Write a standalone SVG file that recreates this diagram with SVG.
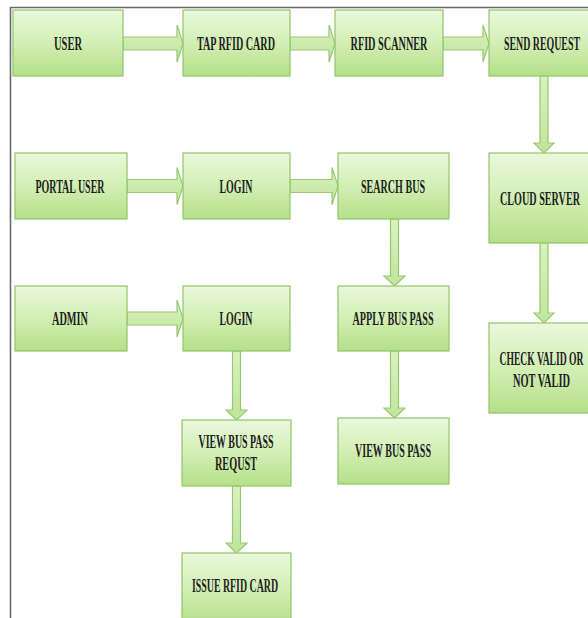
<svg xmlns="http://www.w3.org/2000/svg" width="588" height="618" viewBox="0 0 588 618">
  <defs>
    <linearGradient id="boxFill" x1="0" y1="0" x2="0" y2="1">
      <stop offset="0" stop-color="#eaf8dc"/>
      <stop offset="0.5" stop-color="#d2efb4"/>
      <stop offset="1" stop-color="#b4e088"/>
    </linearGradient>
    <linearGradient id="arrowFill" x1="0" y1="0" x2="0" y2="1">
      <stop offset="0" stop-color="#d9f2c0"/>
      <stop offset="1" stop-color="#bfe59c"/>
    </linearGradient>
  </defs>
  <style>
    .box { fill: url(#boxFill); stroke: #92c46a; stroke-width: 1.2; }
    .arrow { fill: url(#arrowFill); stroke: #98c970; stroke-width: 1.2; stroke-linejoin: miter; }
    .label { font-family: "Liberation Serif", "Times New Roman", serif; font-weight: bold; font-size: 18px; fill: #1f1f1f; text-anchor: middle; }
    .frame { fill: none; stroke: #6a6a6a; stroke-width: 1.6; }
  </style>

  <!-- page frame -->
  <path class="frame" d="M10.5,618 V7.5 H588"/>

  <!-- connectors -->
  <g id="connectors">
    <!-- row 1 -->
    <path class="arrow" d="M123,37 H177 V25 L183,43.5 L177,62 V50 H123 Z"/>
    <path class="arrow" d="M290,37 H329 V25 L335,43.5 L329,62 V50 H290 Z"/>
    <path class="arrow" d="M443,37 H483 V25 L489,43.5 L483,62 V50 H443 Z"/>
    <!-- row 2 -->
    <path class="arrow" d="M127,179.5 H177 V167.5 L183,186 L177,204.5 V192.5 H127 Z"/>
    <path class="arrow" d="M290,179.5 H332 V167.5 L338,186 L332,204.5 V192.5 H290 Z"/>
    <!-- row 3 -->
    <path class="arrow" d="M127,312 H177 V300 L183,318.5 L177,337 V325 H127 Z"/>
    <!-- verticals -->
    <path class="arrow" d="M540,76 V143 H534 L544,153 L554,143 H548 V76 Z"/>
    <path class="arrow" d="M540,243 V313 H534 L544,323 L554,313 H548 V243 Z"/>
    <path class="arrow" d="M390.5,219 V276 H384 L394.5,286 L405,276 H398.5 V219 Z"/>
    <path class="arrow" d="M390.5,351 V408 H384 L394.5,418 L405,408 H398.5 V351 Z"/>
    <path class="arrow" d="M232.5,351 V410 H226 L236.5,420 L247,410 H240.5 V351 Z"/>
    <path class="arrow" d="M232.5,486 V543 H226 L236.5,553 L247,543 H240.5 V486 Z"/>
  </g>

  <g id="user">
    <rect class="box" x="13" y="10" width="110" height="66"/>
    <text class="label" x="68" y="49.5" textLength="28" lengthAdjust="spacingAndGlyphs">USER</text>
  </g>
  <g id="tap-rfid-card">
    <rect class="box" x="183" y="10" width="107" height="66"/>
    <text class="label" x="236" y="49.5" textLength="78" lengthAdjust="spacingAndGlyphs">TAP RFID CARD</text>
  </g>
  <g id="rfid-scanner">
    <rect class="box" x="335" y="10" width="108" height="66"/>
    <text class="label" x="389" y="49.5" textLength="77" lengthAdjust="spacingAndGlyphs">RFID SCANNER</text>
  </g>
  <g id="send-request">
    <rect class="box" x="489" y="10" width="100" height="66"/>
    <text class="label" x="542" y="49.5" textLength="76" lengthAdjust="spacingAndGlyphs">SEND REQUEST</text>
  </g>

  <g id="portal-user">
    <rect class="box" x="15" y="153" width="112" height="66"/>
    <text class="label" x="70" y="192.5" textLength="69" lengthAdjust="spacingAndGlyphs">PORTAL USER</text>
  </g>
  <g id="portal-login">
    <rect class="box" x="183" y="153" width="107" height="66"/>
    <text class="label" x="236" y="192.5" textLength="33" lengthAdjust="spacingAndGlyphs">LOGIN</text>
  </g>
  <g id="search-bus">
    <rect class="box" x="338" y="153" width="111" height="66"/>
    <text class="label" x="393" y="192.5" textLength="64" lengthAdjust="spacingAndGlyphs">SEARCH BUS</text>
  </g>
  <g id="cloud-server">
    <rect class="box" x="489" y="153" width="100" height="90"/>
    <text class="label" x="540" y="204.5" textLength="80" lengthAdjust="spacingAndGlyphs">CLOUD SERVER</text>
  </g>

  <g id="admin">
    <rect class="box" x="15" y="286" width="112" height="65"/>
    <text class="label" x="70" y="325" textLength="36" lengthAdjust="spacingAndGlyphs">ADMIN</text>
  </g>
  <g id="admin-login">
    <rect class="box" x="183" y="286" width="107" height="65"/>
    <text class="label" x="236" y="325" textLength="33" lengthAdjust="spacingAndGlyphs">LOGIN</text>
  </g>
  <g id="apply-bus-pass">
    <rect class="box" x="338" y="286" width="111" height="65"/>
    <text class="label" x="393" y="325" textLength="81" lengthAdjust="spacingAndGlyphs">APPLY BUS PASS</text>
  </g>
  <g id="check-valid">
    <rect class="box" x="489" y="323" width="100" height="90"/>
    <text class="label" x="541.5" y="365" textLength="84" lengthAdjust="spacingAndGlyphs">CHECK VALID OR</text>
    <text class="label" x="541.5" y="387" textLength="57" lengthAdjust="spacingAndGlyphs">NOT VALID</text>
  </g>

  <g id="view-bus-pass-request">
    <rect class="box" x="182" y="420" width="109" height="66"/>
    <text class="label" x="236" y="447.5" textLength="75" lengthAdjust="spacingAndGlyphs">VIEW BUS PASS</text>
    <text class="label" x="236" y="469.5" textLength="42" lengthAdjust="spacingAndGlyphs">REQUST</text>
  </g>
  <g id="view-bus-pass">
    <rect class="box" x="338" y="418" width="111" height="66"/>
    <text class="label" x="393" y="456.5" textLength="76" lengthAdjust="spacingAndGlyphs">VIEW BUS PASS</text>
  </g>
  <g id="issue-rfid-card">
    <rect class="box" x="182" y="553" width="109" height="72"/>
    <text class="label" x="235" y="591.5" textLength="86" lengthAdjust="spacingAndGlyphs">ISSUE RFID CARD</text>
  </g>
</svg>
